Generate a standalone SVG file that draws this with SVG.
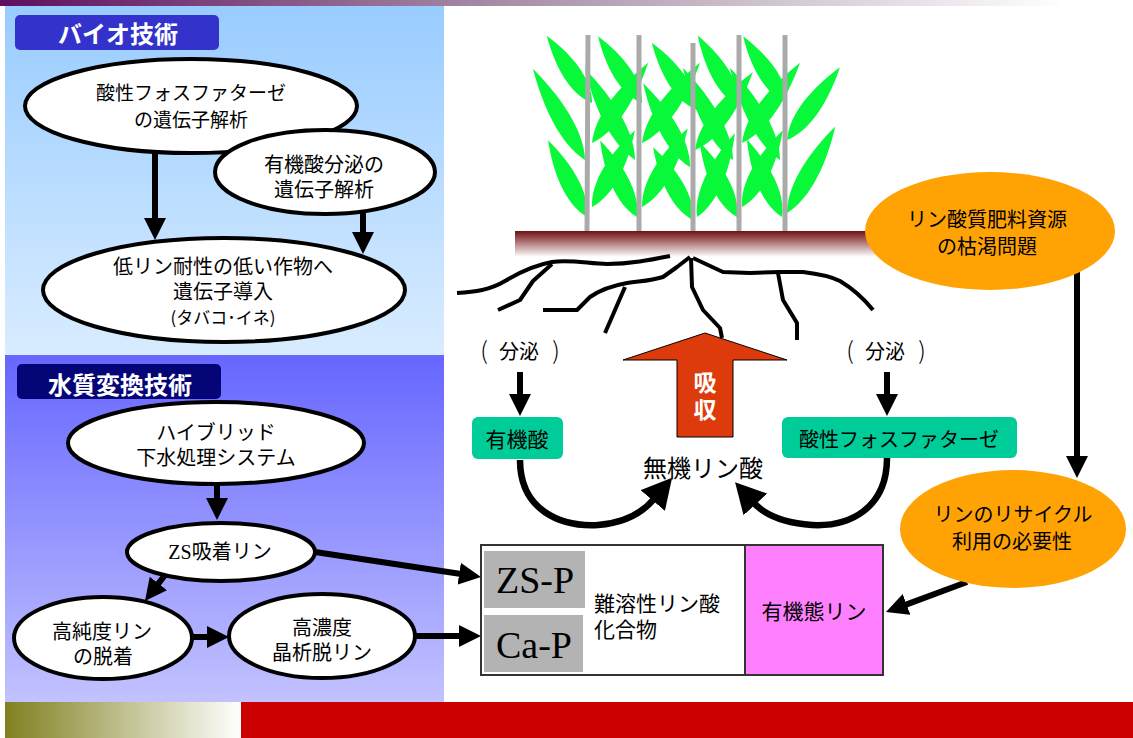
<svg xmlns="http://www.w3.org/2000/svg" xmlns:xlink="http://www.w3.org/1999/xlink" width="1133" height="738" viewBox="0 0 1133 738">
  <defs>
    <linearGradient id="topBar" x1="0" y1="0" x2="1" y2="0">
      <stop offset="0" stop-color="#5e0f5e"/>
      <stop offset="0.45" stop-color="#a890a8"/>
      <stop offset="0.94" stop-color="#ffffff"/>
    </linearGradient>
    <linearGradient id="bioPanel" x1="0" y1="0" x2="0" y2="1">
      <stop offset="0" stop-color="#99ccff"/>
      <stop offset="1" stop-color="#d9ecff"/>
    </linearGradient>
    <linearGradient id="waterPanel" x1="0" y1="0" x2="0" y2="1">
      <stop offset="0" stop-color="#6666ff"/>
      <stop offset="1" stop-color="#c2c2ff"/>
    </linearGradient>
    <linearGradient id="olive" x1="0" y1="0" x2="1" y2="0">
      <stop offset="0" stop-color="#808020"/>
      <stop offset="1" stop-color="#ffffff"/>
    </linearGradient>
    <linearGradient id="soil" x1="0" y1="0" x2="0" y2="1">
      <stop offset="0" stop-color="#701010"/>
      <stop offset="1" stop-color="#ffffff"/>
    </linearGradient>
    <path id="leaf" d="M0,0 C25,-14 65,-10 100,0 C65,10 25,14 0,0Z"/>
    <marker id="head" markerUnits="userSpaceOnUse" viewBox="0 0 22 22" markerWidth="22" markerHeight="22" refX="2" refY="11" orient="auto">
      <path d="M0,0 L22,11 L0,22Z" fill="#000"/>
    </marker>
    <marker id="bigHead" markerUnits="userSpaceOnUse" viewBox="0 0 30 32" markerWidth="30" markerHeight="32" refX="2" refY="16" orient="auto">
      <path d="M0,0 L30,16 L0,32Z" fill="#000"/>
    </marker>
    <style>
      .t { font-family: "Noto Sans CJK JP", "Noto Sans", sans-serif; fill: #000; text-anchor: middle; }
      .s19 { font-size: 19px; }
      .s20 { font-size: 20px; }
      .s21 { font-size: 21px; }
      .paren { font-size: 24px; font-weight: 300; }
      .hdr { font-family: "Noto Sans CJK JP", sans-serif; font-weight: bold; font-size: 24px; fill: #fff; text-anchor: middle; }
      .node { fill: #fff; stroke: #000; stroke-width: 4; }
      .orange { fill: #ffa305; }
      .teal { fill: #00cc99; }
      .gray { fill: #b3b3b3; }
      .serif { font-family: "Liberation Serif", serif; font-size: 38px; fill: #000; text-anchor: middle; }
      .conn { fill: none; stroke: #000; stroke-width: 6; marker-end: url(#head); }
      .curve { fill: none; stroke: #000; stroke-width: 6.5; marker-end: url(#bigHead); }
      .root { fill: none; stroke: #000; stroke-width: 4; stroke-linejoin: round; stroke-linecap: butt; }
      .stem { stroke: #aaaaaa; stroke-width: 5; }
      .leafs use { fill: #08f83a; }
    </style>
  </defs>

  <!-- page background and bands -->
  <rect width="1133" height="738" fill="#fff"/>
  <rect x="0" y="0" width="1133" height="6" fill="url(#topBar)"/>
  <rect x="5" y="6" width="439" height="349" fill="url(#bioPanel)"/>
  <rect x="5" y="355" width="439" height="347" fill="url(#waterPanel)"/>
  <rect x="5" y="702" width="236" height="36" fill="url(#olive)"/>
  <rect x="241" y="702" width="892" height="36" fill="#cc0000"/>

  <!-- section headers -->
  <g id="bio-header">
    <rect x="15" y="15" width="204" height="35" rx="5" fill="#3333cc"/>
    <text class="hdr" x="118" y="43">バイオ技術</text>
  </g>
  <g id="water-header">
    <rect x="17" y="364" width="204" height="35" rx="5" fill="#050578"/>
    <text class="hdr" x="120" y="394">水質変換技術</text>
  </g>

  <!-- rice plants -->
  <g id="plant">
    <rect x="515" y="231" width="360" height="26" fill="url(#soil)"/>
    <g class="leafs">
      <use xlink:href="#leaf" transform="translate(592,103) rotate(-123.9) scale(0.81,1)"/>
      <use xlink:href="#leaf" transform="translate(585,160) rotate(-119.7) scale(1.05,1)"/>
      <use xlink:href="#leaf" transform="translate(587,217) rotate(-116.9) scale(0.86,1)"/>
      <use xlink:href="#leaf" transform="translate(642,103) rotate(-123.3) scale(0.80,1)"/>
      <use xlink:href="#leaf" transform="translate(635,160) rotate(-118.8) scale(1.04,1)"/>
      <use xlink:href="#leaf" transform="translate(592,143) rotate(-55) scale(0.98,1)"/>
      <use xlink:href="#leaf" transform="translate(637,217) rotate(-115.7) scale(0.85,1)"/>
      <use xlink:href="#leaf" transform="translate(592,207) rotate(-60.8) scale(0.88,1)"/>
      <use xlink:href="#leaf" transform="translate(697,110) rotate(-123.9) scale(0.81,1)"/>
      <use xlink:href="#leaf" transform="translate(690,167) rotate(-119.2) scale(0.96,1)"/>
      <use xlink:href="#leaf" transform="translate(642,143) rotate(-54.1) scale(0.99,1)"/>
      <use xlink:href="#leaf" transform="translate(693,220) rotate(-118.7) scale(0.83,1)"/>
      <use xlink:href="#leaf" transform="translate(642,207) rotate(-59.8) scale(0.91,1)"/>
      <use xlink:href="#leaf" transform="translate(740,107) rotate(-120.6) scale(0.83,1)"/>
      <use xlink:href="#leaf" transform="translate(733,160) rotate(-118.5) scale(1.05,1)"/>
      <use xlink:href="#leaf" transform="translate(695,150) rotate(-53.4) scale(0.97,1)"/>
      <use xlink:href="#leaf" transform="translate(737,217) rotate(-116.6) scale(0.83,1)"/>
      <use xlink:href="#leaf" transform="translate(697,217) rotate(-65.7) scale(0.92,1)"/>
      <use xlink:href="#leaf" transform="translate(787,103) rotate(-123.3) scale(0.80,1)"/>
      <use xlink:href="#leaf" transform="translate(780,160) rotate(-118.5) scale(1.05,1)"/>
      <use xlink:href="#leaf" transform="translate(742,143) rotate(-54.1) scale(0.99,1)"/>
      <use xlink:href="#leaf" transform="translate(782,217) rotate(-114.4) scale(0.85,1)"/>
      <use xlink:href="#leaf" transform="translate(742,207) rotate(-62) scale(0.87,1)"/>
      <use xlink:href="#leaf" transform="translate(787,140) rotate(-54) scale(0.90,1)"/>
      <use xlink:href="#leaf" transform="translate(787,213) rotate(-60.8) scale(0.99,1)"/>
    </g>
    <line class="stem" x1="588" y1="35" x2="587" y2="231"/>
    <line class="stem" x1="639" y1="35" x2="639" y2="231"/>
    <line class="stem" x1="693" y1="43" x2="693" y2="231"/>
    <line class="stem" x1="739" y1="35" x2="739" y2="231"/>
    <line class="stem" x1="785" y1="35" x2="785" y2="231"/>
  </g>

  <!-- roots -->
  <g id="roots">
    <path class="root" d="M457,293 C475,292 490,290 505,281 C520,272 535,265 552,262 C570,259 590,264 607,264 C630,264 650,260 670,256"/>
    <path class="root" d="M498,310 L520,300 L533,281 L552,264"/>
    <path class="root" d="M690,257 L677,267 L663,277 C650,281 640,281 627,283 C610,286 600,290 590,297 L577,310 L543,310"/>
    <path class="root" d="M625,287 L605,333"/>
    <path class="root" d="M691,258 L692,287 L703,310 L720,328 L722,338"/>
    <path class="root" d="M693,258 L723,272 L750,273 L780,272 L803,272 C820,274 830,276 840,281 C855,290 865,300 873,310"/>
    <path class="root" d="M778,273 L783,300 L797,323 L797,340"/>
  </g>

  <!-- absorption arrow -->
  <g id="absorb">
    <polygon points="705,333 787,360 733,360 733,437 677,437 677,360 623,360" fill="#dd3b0b" stroke="#000" stroke-width="1"/>
    <text class="hdr" x="705" y="391" style="font-size:23px">吸</text>
    <text class="hdr" x="705" y="418" style="font-size:23px">収</text>
  </g>

  <!-- connectors -->
  <g id="connectors">
    <line class="conn" x1="155" y1="153" x2="155" y2="220"/>
    <line class="conn" x1="363" y1="213" x2="363" y2="234"/>
    <line class="conn" x1="217" y1="483" x2="217" y2="500"/>
    <line class="conn" x1="165" y1="575" x2="157.2" y2="585.1"/>
    <line class="conn" x1="192" y1="637" x2="209" y2="637"/>
    <line class="conn" x1="315" y1="552" x2="461.2" y2="574"/>
    <line class="conn" x1="415" y1="636" x2="461" y2="636"/>
    <line class="conn" x1="520" y1="372" x2="520" y2="396"/>
    <line class="conn" x1="887" y1="372" x2="887" y2="396"/>
    <line class="conn" x1="1077" y1="272" x2="1077" y2="458"/>
    <line class="conn" x1="967" y1="582" x2="904.7" y2="605.1"/>
    <path class="curve" d="M520,460 C520,510 560,527 598,525 C625,523 643,512 654,499"/>
    <path class="curve" d="M887,458 C887,508 850,527 812,525 C785,523 765,515 754,503"/>
  </g>

  <!-- biotechnology nodes -->
  <g id="acid-phosphatase-gene">
    <ellipse class="node" cx="191" cy="106" rx="166" ry="47"/>
    <text class="t s19" x="191" y="100">酸性フォスファターゼ</text>
    <text class="t s19" x="191" y="127">の遺伝子解析</text>
  </g>
  <g id="organic-acid-gene">
    <ellipse class="node" cx="325" cy="172" rx="110" ry="42"/>
    <text class="t s20" x="324" y="172">有機酸分泌の</text>
    <text class="t s20" x="324" y="197">遺伝子解析</text>
  </g>
  <g id="gene-transfer">
    <ellipse class="node" cx="224" cy="290" rx="181" ry="52"/>
    <text class="t s20" x="223" y="274">低リン耐性の低い作物へ</text>
    <text class="t s20" x="223" y="299">遺伝子導入</text>
    <text class="t" style="font-size:17px" x="223" y="324">(タバコ･イネ)</text>
  </g>

  <!-- water treatment nodes -->
  <g id="hybrid-system">
    <ellipse class="node" cx="216" cy="443" rx="148" ry="41"/>
    <text class="t s20" x="216" y="440">ハイブリッド</text>
    <text class="t s20" x="216" y="465">下水処理システム</text>
  </g>
  <g id="zs-adsorption">
    <ellipse class="node" cx="221" cy="552" rx="94" ry="29"/>
    <text class="t s20" x="220" y="559"><tspan style="font-family:'Liberation Serif',serif">ZS</tspan>吸着リン</text>
  </g>
  <g id="high-purity">
    <ellipse class="node" cx="103" cy="638" rx="89" ry="41"/>
    <text class="t s20" x="102" y="639">高純度リン</text>
    <text class="t s20" x="103" y="664">の脱着</text>
  </g>
  <g id="crystallization">
    <ellipse class="node" cx="322" cy="636" rx="93" ry="42"/>
    <text class="t s20" x="322" y="635">高濃度</text>
    <text class="t s20" x="322" y="660">晶析脱リン</text>
  </g>

  <!-- root zone labels -->
  <g id="secretion-left">
    <text class="t s20" y="359"><tspan class="paren" x="484">(</tspan><tspan x="519">分泌</tspan><tspan class="paren" x="556">)</tspan></text>
  </g>
  <g id="secretion-right">
    <text class="t s20" y="359"><tspan class="paren" x="850">(</tspan><tspan x="885">分泌</tspan><tspan class="paren" x="922">)</tspan></text>
  </g>
  <g id="organic-acid">
    <rect class="teal" x="472" y="417" width="91" height="42" rx="6"/>
    <text class="t s21" x="517" y="447">有機酸</text>
  </g>
  <g id="acid-phosphatase">
    <rect class="teal" x="782" y="417" width="235" height="41" rx="6"/>
    <text class="t s20" x="899" y="447">酸性フォスファターゼ</text>
  </g>
  <g id="inorganic-phosphate">
    <text class="t" style="font-size:24px" x="703" y="477">無機リン酸</text>
  </g>

  <!-- phosphorus compounds -->
  <g id="compounds">
    <rect x="481" y="545" width="402" height="130" fill="#fff" stroke="#333" stroke-width="2"/>
    <rect x="745" y="545" width="138" height="130" fill="#ff80ff" stroke="#333" stroke-width="2"/>
    <rect class="gray" x="484" y="551" width="101" height="57"/>
    <rect class="gray" x="484" y="615" width="99" height="57"/>
    <text class="serif" x="535" y="593">ZS-P</text>
    <text class="serif" x="534" y="658">Ca-P</text>
    <text class="t s21" x="594" y="611" style="text-anchor:start">難溶性リン酸</text>
    <text class="t s21" x="594" y="637" style="text-anchor:start">化合物</text>
    <text class="t s21" x="814" y="619">有機態リン</text>
  </g>

  <!-- resource issues -->
  <g id="fertilizer-depletion">
    <ellipse class="orange" cx="990" cy="231" rx="125" ry="59"/>
    <text class="t s20" x="987" y="227">リン酸質肥料資源</text>
    <text class="t s20" x="987" y="254">の枯渇問題</text>
  </g>
  <g id="recycling-need">
    <ellipse class="orange" cx="1013" cy="529" rx="113" ry="59"/>
    <text class="t s20" x="1013" y="522">リンのリサイクル</text>
    <text class="t s20" x="1012" y="549">利用の必要性</text>
  </g>
</svg>
